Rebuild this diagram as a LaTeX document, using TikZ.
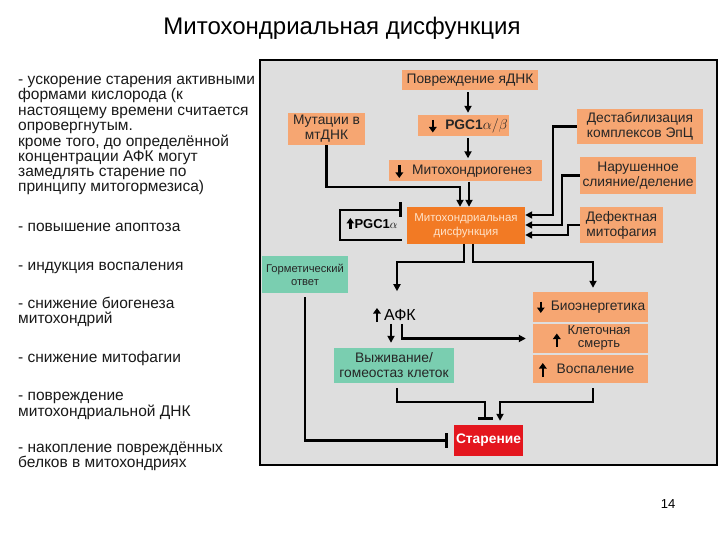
\documentclass[tikz,border=0pt]{standalone}
\usepackage{fontspec}
\setmainfont{Liberation Sans}
\usetikzlibrary{arrows.meta}
\definecolor{bg}{RGB}{222,222,222}
\definecolor{lor}{RGB}{246,166,114}
\definecolor{dor}{RGB}{242,122,36}
\definecolor{tealbox}{RGB}{122,206,176}
\definecolor{redbox}{RGB}{228,22,30}
\definecolor{dystext}{RGB}{255,226,200}
\tikzset{
  obox/.style={fill=lor, inner sep=0pt, align=center, text=black!85,
    font=\fontsize{13.8}{15}\selectfont},
  dbox/.style={fill=dor, inner sep=0pt, align=center, text=dystext,
    font=\fontsize{11.5}{13.5}\selectfont},
  tbox/.style={fill=tealbox, inner sep=0pt, align=center, text=black!85,
    font=\fontsize{13.8}{15}\selectfont},
  rbox/.style={fill=redbox, inner sep=0pt, align=center, text=white,
    font=\bfseries\fontsize{13.8}{15}\selectfont},
  lt/.style={anchor=base west, inner sep=0pt, text=black!90,
    font=\fontsize{15.5}{16}\selectfont},
  conn/.style={line width=2.4pt, -{Triangle[length=7pt,width=7pt]}},
  tbar/.style={line width=2.4pt, -{Bar[width=15pt,line width=2.4pt]}},
  glyph/.style={line width=2.4pt, -{Triangle[length=5.5pt,width=7.5pt]}},
}
\begin{document}
\begin{tikzpicture}[x=1pt,y=-1pt]
\useasboundingbox (0,0) rectangle (720,540);
\fill[white] (0,0) rectangle (720,540);
% title
\node[anchor=base, font=\fontsize{24}{26}\selectfont] (title) at (342,35) {Митохондриальная дисфункция};
% left text
\node[lt] (l1) at (18,85) {- ускорение старения активными};
\node[lt] (l2) at (18,100) {формами кислорода (к};
\node[lt] (l3) at (18,115.5) {настоящему времени считается};
\node[lt] (l4) at (18,130.5) {опровергнутым.};
\node[lt] (l5) at (18,146.5) {кроме того, до определённой};
\node[lt] (l6) at (18,162) {концентрации АФК могут};
\node[lt] (l7) at (18,177) {замедлять старение по};
\node[lt] (l8) at (18,192) {принципу митогормезиса)};
\node[lt] (l9) at (18,232) {- повышение апоптоза};
\node[lt] (l10) at (18,270) {- индукция воспаления};
\node[lt] (l11) at (18,308) {- снижение биогенеза};
\node[lt] (l12) at (18,323) {митохондрий};
\node[lt] (l13) at (18,362) {- снижение митофагии};
\node[lt] (l14) at (18,400) {- повреждение};
\node[lt] (l15) at (18,416) {митохондриальной ДНК};
\node[lt] (l16) at (18,452) {- накопление повреждённых};
\node[lt] (l17) at (18,467) {белков в митохондриях};
% frame
\draw[line width=2pt, fill=bg] (260,60) rectangle (717,465);
% boxes
\node[obox, minimum width=136pt, minimum height=20pt] (dnk) at (470,80) {Повреждение яДНК};
\node[obox, minimum width=91pt, minimum height=21pt] (pgc) at (463.5,125.5) {\hspace*{26pt}\textbf{PGC1}$\alpha/\beta$};
\node[obox, minimum width=153pt, minimum height=21pt] (mito) at (465,171) {\hspace*{14pt}Митохондриогенез};
\node[obox, minimum width=77pt, minimum height=32pt] (mut) at (326.5,129) {Мутации в\\мтДНК};
\node[obox, minimum width=126pt, minimum height=35pt] (dest) at (640,126.5) {Дестабилизация\\комплексов ЭпЦ};
\node[obox, minimum width=116pt, minimum height=37pt] (nar) at (638,175.5) {Нарушенное\\слияние/деление};
\node[obox, minimum width=83pt, minimum height=36pt] (def) at (621.5,225) {Дефектная\\митофагия};
\node[dbox, minimum width=118pt, minimum height=37pt] (dys) at (466,225.5) {Митохондриальная\\дисфункция};
\node[tbox, minimum width=86pt, minimum height=37pt, font=\fontsize{11.2}{13}\selectfont] (horm) at (305,274.5) {Горметический\\ответ};
\node[font=\fontsize{16}{18}\selectfont, inner sep=1pt] (afk) at (400,315) {АФК};
\node[obox, minimum width=115pt, minimum height=30pt] (bio) at (590.5,307) {\hspace*{15pt}Биоэнергетика};
\node[obox, minimum width=115pt, minimum height=29pt, font=\fontsize{13}{13}\selectfont] (kl) at (590.5,338.5) {\hspace*{17pt}\begin{tabular}{@{}c@{}}Клеточная\\смерть\end{tabular}};
\node[obox, minimum width=115pt, minimum height=28pt] (vos) at (590.5,369) {\hspace*{10pt}Воспаление};
\node[tbox, minimum width=120pt, minimum height=35pt] (viz) at (394,365.5) {Выживание/\\гомеостаз клеток};
\node[rbox, minimum width=69pt, minimum height=31pt] (star) at (488.5,440.5) {Старение};
\node[font=\fontsize{13}{15}\selectfont, inner sep=0pt] (pgcl) at (376,224) {\textbf{PGC1}$\alpha$};
\node[font=\fontsize{13}{15}\selectfont] (pnum) at (668,504) {14};
% small arrows inside labels
\draw[glyph] ([xshift=15pt,yshift=5.5pt]pgc.west) -- ([xshift=15pt,yshift=-7pt]pgc.west);
\draw[glyph] ([xshift=11pt,yshift=6pt]mito.west) -- ([xshift=11pt,yshift=-7pt]mito.west);
\draw[glyph] ([xshift=8pt,yshift=5.5pt]bio.west) -- ([xshift=8pt,yshift=-6pt]bio.west);
\draw[glyph] ([xshift=24pt,yshift=-8pt]kl.west) -- ([xshift=24pt,yshift=5pt]kl.west);
\draw[glyph] ([xshift=10pt,yshift=-8pt]vos.west) -- ([xshift=10pt,yshift=6pt]vos.west);
\draw[glyph] ([xshift=-6pt,yshift=-7pt]afk.west) -- ([xshift=-6pt,yshift=7pt]afk.west);
\draw[glyph] ([xshift=-4pt,yshift=-5pt]pgcl.west) -- ([xshift=-4pt,yshift=6pt]pgcl.west);
% helper coordinates
\coordinate (cx) at (468,0);
\coordinate (cy) at (469,0);
\coordinate (mj) at (460,187);
\coordinate (lp) at (340,225);
% connectors
\draw[conn, shorten <=2pt, shorten >=2pt] (cx |- dnk.south) -- (cx |- pgc.north);
\draw[conn, shorten <=2pt, shorten >=2pt] (cx |- pgc.south) -- (cx |- mito.north);
\draw[conn] (mut.south) |- (mj) -- (mj |- dys.north);
\draw[conn] (cy |- mito.south) -- (cy |- dys.north);
\draw[conn] (dest.west) -- ++(-24,0) |- ([yshift=10.5pt]dys.east);
\draw[conn] (nar.west) -- ++(-18,0) |- ([yshift=0.5pt]dys.east);
\draw[conn] (def.west) -- ++(-12,0) |- ([yshift=-9.5pt]dys.east);
\draw[tbar] ([xshift=-5pt,yshift=-14.5pt]dys.west) -| (lp) |- ([xshift=-5pt,yshift=15.5pt]dys.west);
\draw[conn] ([xshift=-2pt]dys.south) -- ++(0,18) -| ([xshift=-3pt,yshift=17pt]afk.north);
\draw[conn, shorten >=4pt] ([xshift=7pt]dys.south) -- ++(0,18) -| ([xshift=2.5pt]bio.north);
\draw[conn, shorten <=2pt, shorten >=5pt] ([xshift=-9pt]afk.south) -- ([xshift=-9pt]afk.south |- viz.north);
\draw[conn, shorten <=2pt, shorten >=7pt] ([xshift=2pt]afk.south) |- (kl.west);
\draw[tbar, shorten <=5pt, shorten >=5pt] ([xshift=3pt]viz.south) -- ++(0,19) -| ([xshift=-3.5pt]star.north);
\draw[conn, shorten <=5pt, shorten >=4pt] ([xshift=2.5pt]vos.south) -- ++(0,19) -| ([xshift=11.5pt]star.north);
\draw[tbar, shorten <=4pt, shorten >=6pt] (horm.south) |- (star.west);
\end{tikzpicture}
\end{document}
